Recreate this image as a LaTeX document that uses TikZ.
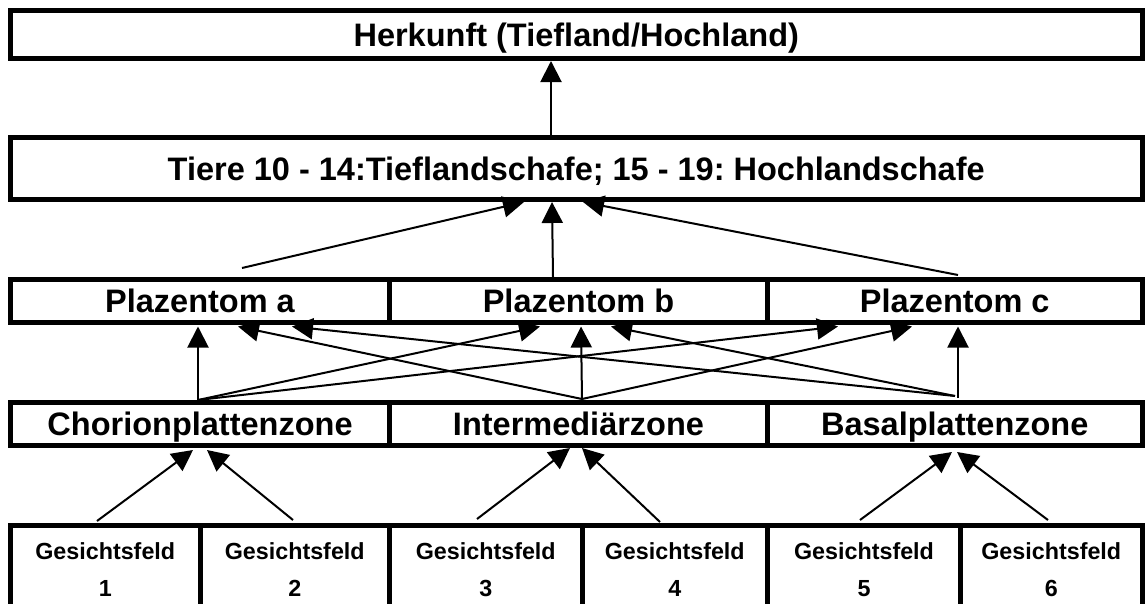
\documentclass[tikz,border=0pt]{standalone}
\usepackage{fontspec}
\setmainfont{Liberation Sans}
\usetikzlibrary{arrows.meta}
\frenchspacing
\begin{document}
\begin{tikzpicture}[x=1pt,y=-1pt,
  box/.style={draw, line width=5pt, inner sep=0pt, outer sep=0pt,
    font=\bfseries\fontsize{32.5}{39}\selectfont, text height=23.3pt, text depth=0pt},
  gbox/.style={draw, line width=5pt, inner sep=0pt, outer sep=0pt,
    font=\bfseries\fontsize{23.3}{37}\selectfont, align=center, minimum height=89pt},
  arr/.style={line width=2pt, -{Triangle[length=21pt,width=21pt]}}]
\path[use as bounding box] (0,0) rectangle (1146,603);
\clip (0,0) rectangle (1146,603);
% boxes
\node[box, minimum width=1131.5pt, minimum height=48pt] (herk) at (576.25,34.5) {Herkunft (Tiefland/Hochland)};
\node[box, minimum width=1131.5pt, minimum height=62pt] (tiere) at (576.25,168.5) {Tiere 10 - 14:Tieflandschafe; 15 - 19: Hochlandschafe};
\node[box, minimum width=379pt, minimum height=43pt] (pa) at (200,301) {Plazentom a};
\node[box, minimum width=378pt, minimum height=43pt] (pb) at (578.5,301) {Plazentom b};
\node[box, minimum width=374.5pt, minimum height=43pt] (pc) at (954.75,301) {Plazentom c};
\node[box, minimum width=379pt, minimum height=43pt] (zc) at (200,424) {Chorionplattenzone};
\node[box, minimum width=378pt, minimum height=43pt] (zi) at (578.5,424) {Intermediärzone};
\node[box, minimum width=374.5pt, minimum height=43pt] (zb) at (954.75,424) {Basalplattenzone};
\node[gbox, minimum width=189.5pt] (g1) at (105.25,570) {Gesichtsfeld\\1};
\node[gbox, minimum width=189.5pt] (g2) at (294.75,570) {Gesichtsfeld\\2};
\node[gbox, minimum width=192.5pt] (g3) at (485.75,570) {Gesichtsfeld\\3};
\node[gbox, minimum width=185.5pt] (g4) at (674.75,570) {Gesichtsfeld\\4};
\node[gbox, minimum width=193pt] (g5) at (864,570) {Gesichtsfeld\\5};
\node[gbox, minimum width=181.5pt] (g6) at (1051.25,570) {Gesichtsfeld\\6};
% top arrow
\draw[arr] ([xshift=-25.25pt]tiere.north) -- ([xshift=-25.25pt,yshift=-2.5pt]herk.south);
% Plazentom -> Tiere
\draw[arr] ([xshift=42pt,yshift=11.5pt]pa.north) -- ([xshift=-52.25pt,yshift=-2.5pt]tiere.south);
\draw[arr] ([xshift=-25.5pt,yshift=2.5pt]pb.north) -- ([xshift=-24.25pt,yshift=-2.5pt]tiere.south);
\draw[arr] ([xshift=3.25pt,yshift=4.5pt]pc.north) -- ([xshift=6.75pt,yshift=-2.5pt]tiere.south);
% zones -> Plazentom a
\draw[arr] ([xshift=-2pt,yshift=2.5pt]zc.north) -- ([xshift=-2pt,yshift=-4pt]pa.south);
\draw[arr] ([xshift=3.5pt,yshift=3.5pt]zi.north) -- ([xshift=38pt,yshift=-4pt]pa.south);
\draw[arr] ([xshift=0.25pt,yshift=6.5pt]zb.north) -- ([xshift=92pt,yshift=-4pt]pa.south);
% zones -> Plazentom b
\draw[arr] ([xshift=-2pt,yshift=2.5pt]zc.north) -- ([xshift=-38.5pt,yshift=-4pt]pb.south);
\draw[arr] ([xshift=3.5pt,yshift=3.5pt]zi.north) -- ([xshift=2.5pt,yshift=-4pt]pb.south);
\draw[arr] ([xshift=0.25pt,yshift=6.5pt]zb.north) -- ([xshift=32.5pt,yshift=-4pt]pb.south);
% zones -> Plazentom c
\draw[arr] ([xshift=-2pt,yshift=2.5pt]zc.north) -- ([xshift=-116.75pt,yshift=-4pt]pc.south);
\draw[arr] ([xshift=3.5pt,yshift=3.5pt]zi.north) -- ([xshift=-42.75pt,yshift=-4pt]pc.south);
\draw[arr] ([xshift=3.25pt,yshift=4.5pt]zb.north) -- ([xshift=3.25pt,yshift=-4pt]pc.south);
% Gesichtsfelder -> zones
\draw[arr] ([xshift=-8.25pt,yshift=4.5pt]g1.north) -- ([xshift=-7pt,yshift=-4.5pt]zc.south);
\draw[arr] ([xshift=-1.75pt,yshift=5.5pt]g2.north) -- ([xshift=7pt,yshift=-4.5pt]zc.south);
\draw[arr] ([xshift=-8.75pt,yshift=6.5pt]g3.north) -- ([xshift=-8.5pt,yshift=-2.5pt]zi.south);
\draw[arr] ([xshift=-14.75pt,yshift=3.5pt]g4.north) -- ([xshift=3.5pt,yshift=-2.5pt]zi.south);
\draw[arr] ([xshift=-4pt,yshift=5.5pt]g5.north) -- ([xshift=-2.75pt,yshift=-6.5pt]zb.south);
\draw[arr] ([xshift=-3.25pt,yshift=5.5pt]g6.north) -- ([xshift=2.25pt,yshift=-6.5pt]zb.south);
\end{tikzpicture}
\end{document}
